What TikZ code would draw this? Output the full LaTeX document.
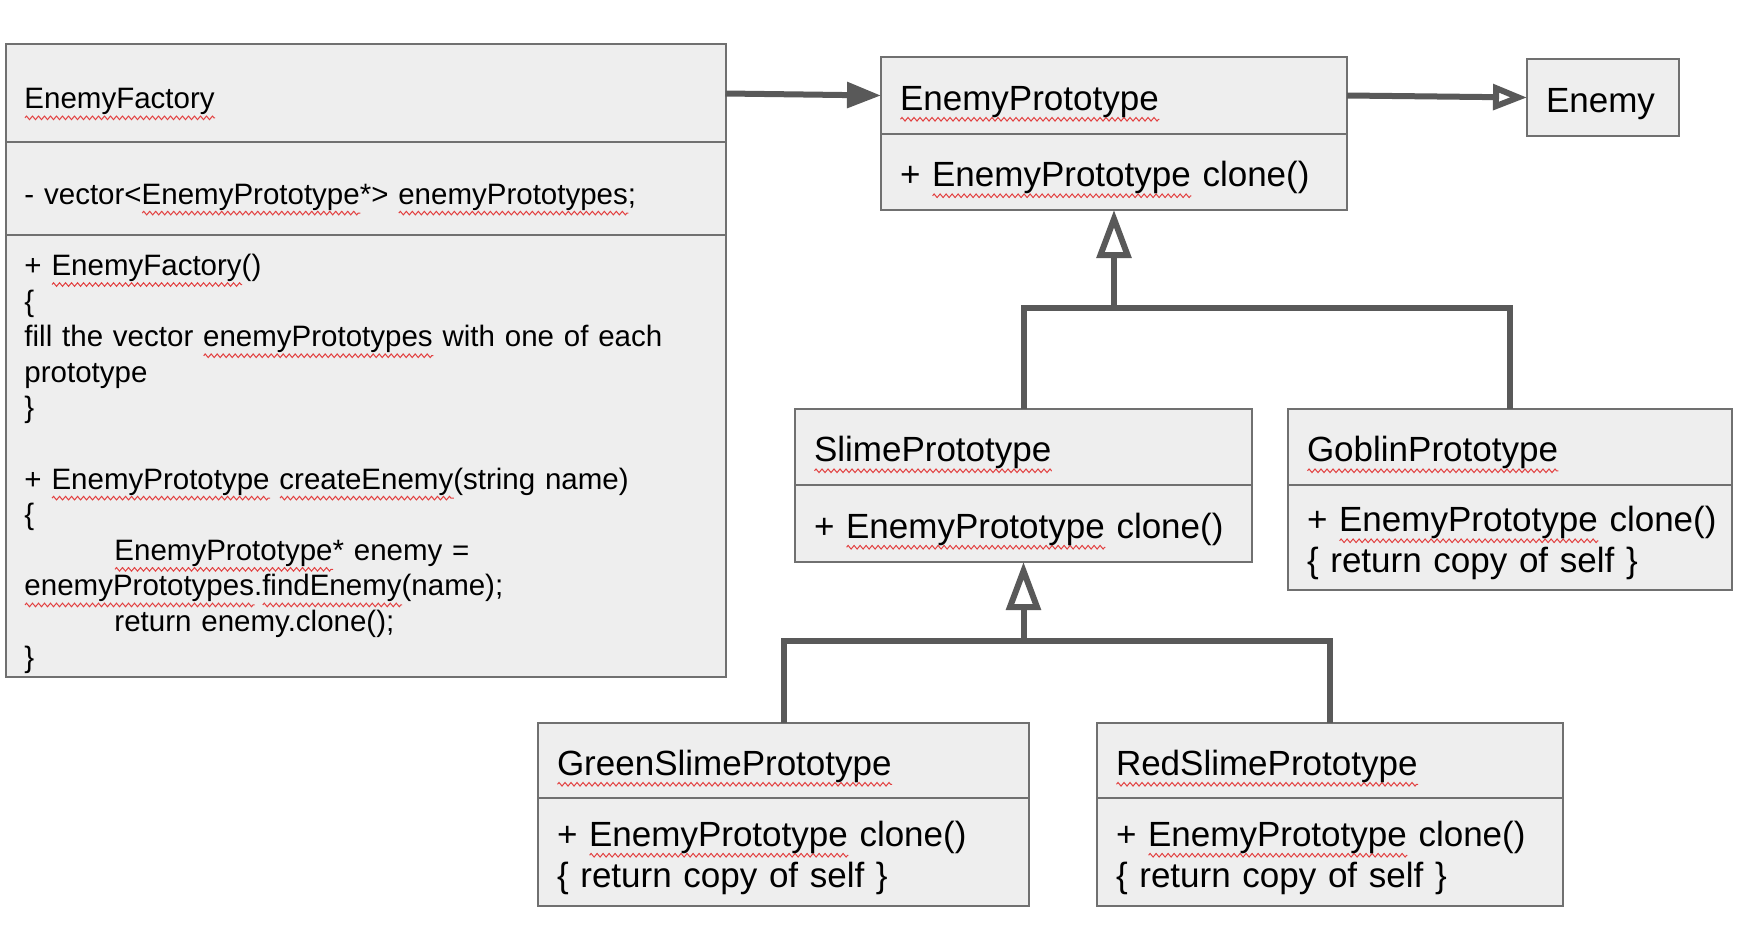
\documentclass[tikz,border=0pt]{standalone}
\usepackage{fontspec}
\setmainfont{Liberation Sans}
\usetikzlibrary{positioning,arrows.meta,decorations.pathmorphing}
\definecolor{clsfill}{RGB}{238,238,238}
\definecolor{clsline}{RGB}{112,112,112}
\definecolor{linkgray}{RGB}{89,89,89}
\definecolor{typored}{RGB}{226,64,64}
% red spell-check wave under a word
\newsavebox{\typobox}
\newcommand{\typo}[1]{\leavevmode\sbox{\typobox}{#1}\rlap{\smash{\tikz[baseline=0pt]
  \draw[typored,line width=0.5pt,decorate,decoration={zigzag,segment length=3pt,amplitude=0.9pt}]
  (0pt,-4.5pt) -- (\the\wd\typobox,-4.5pt);}}\usebox{\typobox}}

\begin{document}
\begin{tikzpicture}[
  x=0.5pt,y=-0.5pt,
  cls/.style={draw=clsline,fill=clsfill,line width=1pt,outer sep=0pt,
              inner xsep=9.5pt,inner ysep=0pt,align=left,anchor=north west,
              font=\fontsize{17.5}{20.5}\selectfont,
              execute at begin node={\leavevmode\rule{0pt}{18.4pt}}},
  fac/.style={cls,font=\fontsize{14.75}{17.8}\selectfont,
              execute at begin node={\leavevmode\rule{0pt}{16pt}}},
  link/.style={draw=linkgray,line width=3pt},
  assoc/.style={link,-{Triangle[length=17pt,width=12.5pt]}},
  real/.style={link,-{Triangle[open,length=17pt,width=12.5pt]}},
  inh/.style={link,-{Triangle[open,length=24pt,width=17pt]}}
]
\useasboundingbox (0,0) rectangle (1746,931);

% factory
\node[fac,text width=341pt,minimum height=49pt] (factN) at (5.5,44.5) {\typo{EnemyFactory}};
\node[fac,text width=341pt,minimum height=46.25pt,below=0pt of factN,
      execute at begin node={\leavevmode\rule{0pt}{12pt}}] (factA)
  {- vector<\typo{EnemyPrototype}*>~\typo{enemyPrototypes};};
\node[fac,text width=341pt,minimum height=221pt,below=0pt of factA] (factM)
  {+ \typo{EnemyFactory}()\\
   \{\\
   fill the vector \typo{enemyPrototypes} with one of each\\
   prototype\\
   \}\\[17.8pt]
   + \typo{EnemyPrototype} \typo{createEnemy}(string name)\\
   \{\\
   \hspace*{45pt}\typo{EnemyPrototype}* enemy =\\
   \typo{enemyPrototypes}.\typo{findEnemy}(name);\\
   \hspace*{45pt}return enemy.clone();\\
   \}};

% prototype and enemy
\node[cls,text width=214pt,minimum height=38.5pt] (protoN) at (881,57) {\typo{EnemyPrototype}};
\node[cls,text width=214pt,minimum height=38pt,below=0pt of protoN] (protoM)
  {+~\typo{EnemyPrototype}~clone()};
\node[cls,text width=57pt,minimum height=38.5pt] (enemy) at (1527,59) {Enemy};

% second level
\node[cls,text width=209.5pt,minimum height=38pt] (slimeN) at (795,409) {\typo{SlimePrototype}};
\node[cls,text width=209.5pt,minimum height=38.5pt,below=0pt of slimeN] (slimeM)
  {+~\typo{EnemyPrototype}~clone()};
\node[cls,text width=203pt,minimum height=38pt] (goblinN) at (1288,409) {\typo{GoblinPrototype}};
\node[cls,text width=203pt,minimum height=52.5pt,below=0pt of goblinN] (goblinM)
  {+~\typo{EnemyPrototype}~clone()\\ \{ return copy of self \}};

% third level
\node[cls,text width=226.5pt,minimum height=37.5pt] (greenN) at (538,723) {\typo{GreenSlimePrototype}};
\node[cls,text width=226.5pt,minimum height=54pt,below=0pt of greenN] (greenM)
  {+~\typo{EnemyPrototype}~clone()\\ \{ return copy of self \}};
\node[cls,text width=214pt,minimum height=37.5pt] (redN) at (1097,723) {\typo{RedSlimePrototype}};
\node[cls,text width=214pt,minimum height=54pt,below=0pt of redN] (redM)
  {+~\typo{EnemyPrototype}~clone()\\ \{ return copy of self \}};

\path (protoM.south) ++(0,98) coordinate (j1);
\path (slimeM.south) ++(0,79) coordinate (j2);

\draw[assoc] (factN.east) -- (protoN.west);
\draw[real] (protoN.east) -- (enemy.west);

\draw[inh] (slimeN.north) |- (j1) -- (protoM.south);
\draw[link] (goblinN.north) |- (j1);
\draw[inh] (greenN.north) |- (j2) -- (slimeM.south);
\draw[link] (redN.north) |- (j2);

\end{tikzpicture}
\end{document}
